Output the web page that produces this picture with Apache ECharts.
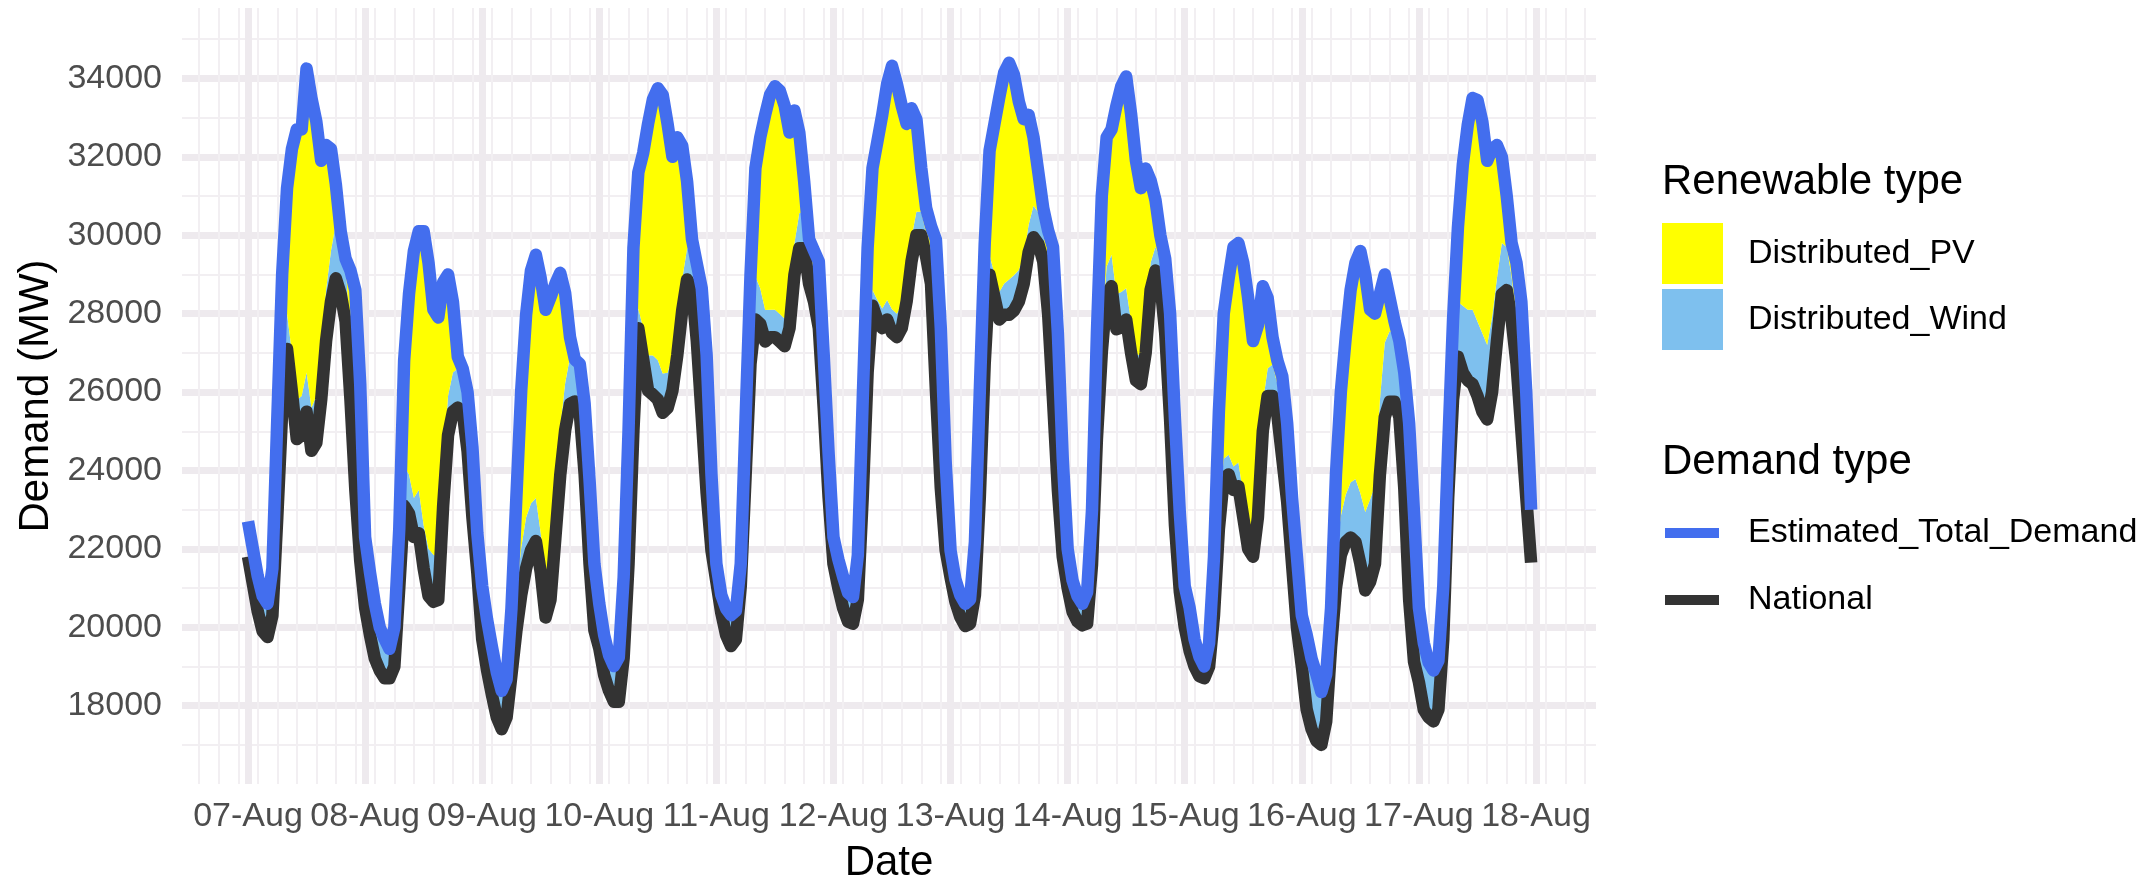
<!DOCTYPE html>
<html>
<head>
<meta charset="utf-8">
<script src="https://cdn.jsdelivr.net/npm/echarts@6/dist/echarts.min.js"></script>
<style>
html,body{margin:0;padding:0;background:#ffffff;}
#chart{width:2154px;height:881px;}
</style>
</head>
<body>
<div id="chart"></div>
<script>
// Hourly samples starting 07-Aug 00:00 (local), one value per hour
const startDay = { year: 2019, month: 7, day: 7 };
const stepHours = 1;

// National demand (MW)
const national = [
  21800, 21100, 20400, 19900, 19750, 20300, 22800, 25500, 27100, 26000, 24800, 24900, 25500, 24500, 24700, 25800, 27300, 28300, 28900, 28500, 27800, 25800, 23500, 21700,
  20500, 19800, 19200, 18900, 18700, 18700, 19000, 21000, 23100, 22900, 22300, 22400, 21500, 20800, 20650, 20700, 23100, 24900, 25500, 25600, 25500, 24500, 22800, 21400,
  19700, 18900, 18270, 17700, 17400, 17700, 18780, 19900, 20820, 21500, 21960, 22200, 21400, 20250, 20700, 22280, 23880, 25020, 25700, 25760, 25470, 23900, 21620, 19920,
  19460, 18780, 18380, 18100, 18100, 19230, 21620, 25020, 27630, 26830, 26040, 25930, 25810, 25470, 25590, 26040, 26950, 28080, 28870, 28650, 27290, 25360, 23430, 21960,
  21160, 20370, 19800, 19520, 19690, 21050, 23880, 26720, 27850, 27740, 27290, 27400, 27400, 27290, 27170, 27630, 28990, 29670, 29670, 28760, 28310, 27630, 25590, 23320,
  21620, 21000, 20480, 20140, 20090, 20710, 23320, 26500, 28200, 27850, 27630, 27850, 27510, 27400, 27630, 28310, 29330, 30000, 30000, 29440, 28760, 26040, 23550, 21960,
  21270, 20650, 20260, 20030, 20090, 20820, 23320, 26720, 28990, 28420, 27850, 27970, 27970, 28080, 28310, 28760, 29560, 29950, 29780, 29330, 28000, 25800, 23500, 21800,
  21000, 20400, 20150, 20050, 20100, 21600, 24800, 27000, 28500, 28700, 27600, 27650, 27850, 27000, 26300, 26200, 27000, 28600, 29100, 28800, 27500, 25300, 22600, 20900,
  20000, 19400, 19000, 18750, 18700, 19000, 20300, 22500, 23800, 23900, 23500, 23600, 22800, 22000, 21800, 22800, 25000, 25900, 25900, 25400, 24300, 23200, 21600, 20000,
  19000, 17900, 17400, 17100, 17000, 17600, 19500, 21000, 21840, 22180, 22290, 22180, 21620, 20940, 21160, 21620, 23880, 25360, 25750, 25750, 25360, 23550, 20710, 19120,
  18600, 17900, 17700, 17600, 17900, 19700, 23300, 25800, 26900, 26500, 26300, 26200, 25900, 25500, 25300, 26000, 27300, 28500, 28600, 27850, 26720, 25020, 23320, 21650
];

// Estimated total demand (MW)
const totalDemand = [
  22700, 22000, 21300, 20800, 20600, 21500, 25300, 29000, 31200, 32200, 32700, 32700, 34250, 33500, 32900, 31900, 32300, 32200, 31300, 30100, 29400, 29100, 28600, 26200,
  22300, 21400, 20600, 20000, 19700, 19450, 20000, 22500, 26800, 28500, 29600, 30100, 30100, 29300, 28100, 27900, 28800, 29000, 28300, 26900, 26600, 26000, 24600, 22400,
  21050, 20200, 19500, 18850, 18380, 18670, 20480, 23300, 26040, 27970, 29100, 29500, 28900, 28100, 28420, 28760, 29040, 28530, 27400, 26830, 26720, 25700, 23770, 21620,
  20600, 19800, 19290, 19010, 19230, 21280, 25020, 29670, 31600, 32100, 32840, 33470, 33750, 33580, 32840, 32000, 32500, 32280, 31370, 29900, 29270, 28650, 26950, 23880,
  21620, 20830, 20480, 20310, 20420, 21620, 25360, 28990, 31710, 32500, 33070, 33580, 33800, 33690, 33300, 32620, 33180, 32620, 31370, 29900, 29610, 29330, 26950, 24450,
  22300, 21730, 21280, 20880, 20770, 21840, 25810, 29670, 31710, 32390, 33070, 33860, 34320, 33860, 33300, 32840, 33240, 32960, 31710, 30690, 30230, 29890, 27630, 24220,
  21960, 21220, 20820, 20600, 20710, 22180, 26040, 29780, 32160, 32840, 33520, 34150, 34400, 34090, 33410, 32960, 33070, 32500, 31600, 30690, 30120, 29700, 27500, 24300,
  22000, 21200, 20800, 20600, 20900, 23000, 27500, 31000, 32500, 32700, 33300, 33800, 34050, 33100, 31900, 31200, 31700, 31400, 30900, 30000, 29400, 28000, 25300, 22900,
  21050, 20500, 19700, 19250, 19000, 19600, 21800, 25500, 28000, 28900, 29700, 29800, 29300, 28400, 27300, 27700, 28700, 28400, 27400, 26800, 26400, 25200, 23300, 21800,
  20300, 19800, 19200, 18800, 18350, 18800, 20500, 23900, 26000, 27400, 28600, 29300, 29600, 29000, 28100, 28000, 28500, 29000, 28400, 27800, 27300, 26500, 25200, 22900,
  20500, 19600, 19100, 18900, 19150, 21050, 24600, 27850, 30200, 31800, 32800, 33500, 33450, 32900, 31900, 32200, 32300, 32000, 31000, 29800, 29300, 28300, 26000, 23000
];

// Distributed wind (MW)
const distributedWind = [
  1500, 1500, 1500, 1500, 1500, 1500, 800, 900, 900, 1000, 1000, 1000, 1000, 1100, 1200, 1200, 1300, 1300, 1400, 1500, 1500, 1400, 1300, 1200,
  1500, 1500, 1500, 1500, 1500, 1500, 1000, 900, 1000, 1000, 1000, 1100, 1100, 1200, 1200, 1100, 1000, 1000, 1000, 1000, 1000, 900, 900, 800,
  1500, 1500, 1500, 1500, 1500, 1500, 1000, 1000, 1200, 1300, 1200, 1100, 1000, 1000, 1000, 1100, 1200, 1200, 1200, 1100, 1000, 900, 800, 800,
  1500, 1500, 1500, 1500, 1500, 1500, 800, 600, 500, 800, 900, 1000, 1000, 1000, 900, 900, 800, 800, 800, 800, 800, 700, 700, 600,
  1500, 1500, 1500, 1500, 1500, 1500, 700, 900, 1100, 900, 800, 700, 700, 700, 700, 800, 800, 900, 900, 900, 800, 700, 600, 500,
  1500, 1500, 1500, 1500, 1500, 1500, 600, 500, 400, 500, 500, 500, 600, 600, 600, 600, 600, 600, 600, 600, 600, 600, 600, 500,
  1500, 1500, 1500, 1500, 1500, 1500, 600, 500, 500, 600, 700, 800, 900, 900, 800, 700, 700, 800, 800, 800, 700, 600, 500, 400,
  1500, 1500, 1500, 1500, 1500, 1500, 600, 600, 700, 800, 900, 900, 800, 800, 700, 700, 700, 700, 600, 600, 600, 600, 600, 500,
  1500, 1500, 1500, 1500, 1500, 1500, 600, 500, 500, 500, 600, 600, 600, 600, 700, 700, 700, 700, 800, 800, 800, 700, 700, 700,
  1500, 1500, 1500, 1500, 1500, 1500, 1100, 900, 1000, 1200, 1400, 1600, 1800, 2000, 2100, 2000, 1900, 1900, 1800, 1700, 1700, 1600, 1500, 1500,
  1900, 1900, 1900, 1900, 1900, 1900, 1300, 1400, 1400, 1700, 1800, 1900, 1900, 2000, 1900, 1900, 1600, 1300, 1100, 1100, 1100, 1000, 1000, 1000
];

const renewableNames = ['Distributed_PV', 'Distributed_Wind'];
const demandNames = ['Estimated_Total_Demand', 'National'];
const yTickInterval = 2000;

// ---- build
const HOUR = 3600 * 1000;
const t0 = new Date(startDay.year, startDay.month, startDay.day, 0, 0, 0).getTime();
const times = national.map((_, i) => t0 + i * stepHours * HOUR);
const windStack = distributedWind.map((w, i) => Math.max(0, Math.min(w, totalDemand[i] - national[i])));
const pvStack = totalDemand.map((v, i) => Math.max(0, v - national[i] - windStack[i]));
const pair = arr => arr.map((v, i) => [times[i], v]);

const xMin = t0 - 13.53 * HOUR;
const xMax = t0 + 276.3 * HOUR;

// thin 4-hourly grid lines (offset 2h from midnight)
const minorX = [];
for (let h = -10; h <= 274; h += 4) minorX.push({ xAxis: t0 + h * HOUR });

const FONT = '"Liberation Sans", Arial, sans-serif';
const MAJOR = '#EEEAEE';
const MINOR = '#F2EFF2';
const LINE_W = 12.5;

const chart = echarts.init(document.getElementById('chart'), null, { renderer: 'canvas' });
chart.setOption({
  animation: false,
  backgroundColor: '#ffffff',
  textStyle: { fontFamily: FONT },
  grid: { left: 182, right: 558, top: -12.1, bottom: 96.9, containLabel: false },
  xAxis: {
    type: 'time',
    min: xMin,
    max: xMax,
    minInterval: 24 * HOUR,
    maxInterval: 24 * HOUR,
    axisLine: { show: false },
    axisTick: { show: false },
    axisLabel: {
      formatter: '{dd}-{MMM}',
      fontSize: 34,
      color: '#4D4D4D',
      fontFamily: FONT,
      margin: 16,
      showMinLabel: false,
      showMaxLabel: false,
      hideOverlap: false
    },
    splitLine: { show: true, showMinLine: false, showMaxLine: false, lineStyle: { color: MAJOR, width: 7 } }
  },
  yAxis: {
    type: 'value',
    min: 16000,
    max: 36000,
    interval: yTickInterval,
    axisLine: { show: false },
    axisTick: { show: false },
    axisLabel: {
      fontSize: 34,
      color: '#4D4D4D',
      fontFamily: FONT,
      margin: 20,
      showMinLabel: false,
      showMaxLabel: false,
      formatter: v => String(v)
    },
    splitLine: { show: true, showMinLine: false, showMaxLine: false, lineStyle: { color: MAJOR, width: 7 } },
    minorTick: { show: false, splitNumber: 2 },
    minorSplitLine: { show: true, lineStyle: { color: MINOR, width: 2 } }
  },
  legend: [
    {
      data: renewableNames.map((n, i) => ({ name: n, itemStyle: { color: i === 0 ? '#FFFF00' : '#7EC0EE', borderWidth: 0 } })),
      orient: 'vertical',
      left: 1662,
      top: 223,
      padding: 0,
      itemWidth: 61,
      itemHeight: 61,
      itemGap: 5,
      icon: 'rect',
      selectedMode: false,
      itemStyle: { borderWidth: 0 },
      textStyle: { fontSize: 34, color: '#000000', fontFamily: FONT, padding: [0, 0, 0, 20], lineHeight: 40 }
    },
    {
      data: demandNames.map((n, i) => ({ name: n, itemStyle: { color: i === 0 ? '#436EEE' : '#333333', borderWidth: 0 } })),
      orient: 'vertical',
      left: 1665,
      top: 513,
      padding: 0,
      itemWidth: 54,
      itemHeight: 10,
      itemGap: 27,
      icon: 'rect',
      selectedMode: false,
      itemStyle: { borderWidth: 0 },
      textStyle: { fontSize: 34, color: '#000000', fontFamily: FONT, padding: [0, 0, 0, 24], lineHeight: 40 }
    }
  ],
  graphic: [
    { type: 'rect', shape: { x: 0, y: 0, width: 2154, height: 8 }, style: { fill: '#ffffff' }, z: 100, silent: true },
    { type: 'text', style: { text: 'Renewable type', x: 1662, y: 182, font: '42px ' + FONT, fill: '#000000', verticalAlign: 'middle' }, silent: true },
    { type: 'text', style: { text: 'Demand type', x: 1662, y: 462, font: '42px ' + FONT, fill: '#000000', verticalAlign: 'middle' }, silent: true },
    { type: 'text', style: { text: 'Date', x: 889, y: 863, font: '42px ' + FONT, fill: '#000000', align: 'center', verticalAlign: 'middle' }, silent: true },
    { type: 'text', x: 36, y: 396, rotation: Math.PI / 2, style: { text: 'Demand (MW)', x: 0, y: 0, font: '42px ' + FONT, fill: '#000000', align: 'center', verticalAlign: 'middle' }, silent: true }
  ],
  series: [
    {
      name: 'National',
      type: 'line',
      stack: 'mix',
      data: pair(national),
      symbol: 'none',
      showSymbol: false,
      silent: true,
      z: 3,
      itemStyle: { color: '#333333' },
      lineStyle: { color: '#333333', width: LINE_W, join: 'round', cap: 'butt' },
      emphasis: { disabled: true },
      markLine: {
        silent: true,
        symbol: ['none', 'none'],
        label: { show: false },
        z: 1,
        animation: false,
        lineStyle: { color: MINOR, width: 2, type: 'solid' },
        emphasis: { disabled: true },
        data: minorX
      }
    },
    {
      name: 'Distributed_Wind',
      type: 'line',
      stack: 'mix',
      data: pair(windStack),
      symbol: 'none',
      showSymbol: false,
      silent: true,
      z: 2,
      itemStyle: { color: '#7EC0EE' },
      lineStyle: { width: 0, opacity: 0 },
      areaStyle: { color: '#7EC0EE', opacity: 1 },
      emphasis: { disabled: true }
    },
    {
      name: 'Distributed_PV',
      type: 'line',
      stack: 'mix',
      data: pair(pvStack),
      symbol: 'none',
      showSymbol: false,
      silent: true,
      z: 2,
      itemStyle: { color: '#FFFF00' },
      lineStyle: { width: 0, opacity: 0 },
      areaStyle: { color: '#FFFF00', opacity: 1 },
      emphasis: { disabled: true }
    },
    {
      name: 'Estimated_Total_Demand',
      type: 'line',
      data: pair(totalDemand),
      symbol: 'none',
      showSymbol: false,
      silent: true,
      z: 4,
      itemStyle: { color: '#436EEE' },
      lineStyle: { color: '#436EEE', width: LINE_W, join: 'round', cap: 'butt' },
      emphasis: { disabled: true }
    }
  ]
});
</script>
</body>
</html>
